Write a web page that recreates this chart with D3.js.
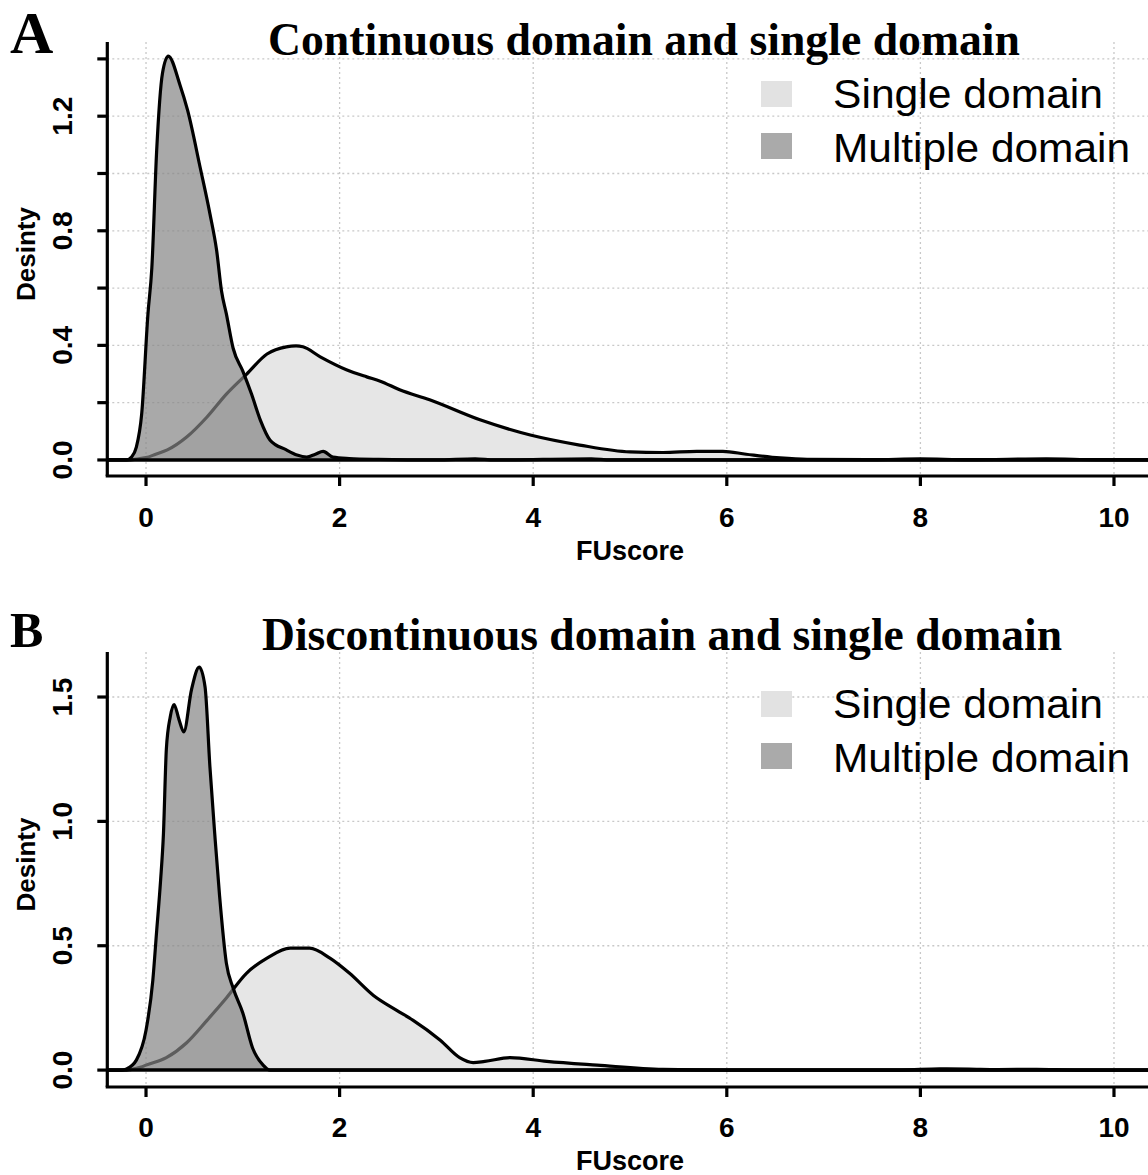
<!DOCTYPE html>
<html><head><meta charset="utf-8">
<script src="https://cdn.jsdelivr.net/npm/d3@7"></script>
<style>body{margin:0;background:#fff}</style></head>
<body>
<svg id="c" width="1148" height="1175"></svg>
<script>
// ---------- data ----------
const xTicks = [0, 2, 4, 6, 8, 10];
const xTickLabels = ["0", "2", "4", "6", "8", "10"];
const yTicksA = [0, 0.2, 0.4, 0.6, 0.8, 1.0, 1.2, 1.4];
const yTickLabelsA = ["0.0", "", "0.4", "", "0.8", "", "1.2", ""];
const yTicksB = [0, 0.5, 1.0, 1.5];
const yTickLabelsB = ["0.0", "0.5", "1.0", "1.5"];
const seriesNames = ["Single domain", "Multiple domain"];
const titles = ["Continuous domain and single domain", "Discontinuous domain and single domain"];
const panelLetters = ["A", "B"];

// Panel A: Single domain density [FUscore, density]
const singleA = [[-0.4,0],[-0.2,0],[-0.1,0.003],[0.0,0.008],[0.1,0.02],[0.22,0.035],[0.42,0.08],[0.63,0.15],
  [0.83,0.23],[1.04,0.30],[1.25,0.37],[1.45,0.395],[1.55,0.398],[1.62,0.395],[1.80,0.36],[2.07,0.315],
  [2.28,0.29],[2.42,0.275],[2.62,0.245],[2.93,0.21],[3.45,0.14],[3.97,0.087],[4.48,0.052],[5.0,0.028],
  [5.34,0.026],[5.69,0.03],[5.96,0.03],[6.2,0.02],[6.55,0.007],[6.83,0.002],[7.5,0.001],[8.0,0.004],
  [8.5,0.001],[9.3,0.004],[9.8,0.001],[10.4,0]];
// Panel A: Multiple domain density
const multipleA = [[-0.4,0],[-0.2,0],[-0.15,0.01],[-0.1,0.045],[-0.045,0.16],[0.02,0.51],[0.06,0.67],
  [0.11,1.08],[0.17,1.35],[0.23,1.41],[0.35,1.31],[0.43,1.22],[0.56,1.02],[0.66,0.86],[0.73,0.73],
  [0.78,0.59],[0.83,0.51],[0.90,0.39],[1.0,0.31],[1.09,0.23],[1.18,0.14],[1.28,0.07],[1.45,0.035],
  [1.56,0.017],[1.66,0.01],[1.75,0.02],[1.83,0.03],[1.93,0.01],[2.1,0.005],[2.4,0.002],[3.0,0],
  [3.4,0.004],[3.6,0],[4.6,0.004],[4.8,0],[10.4,0]];
// Panel B: Single domain density
const singleB = [[-0.4,0],[-0.2,0],[-0.16,0.002],[-0.05,0.012],[0.0,0.02],[0.21,0.05],[0.42,0.11],
  [0.63,0.2],[0.83,0.29],[1.04,0.39],[1.25,0.45],[1.49,0.49],[1.69,0.49],[1.9,0.45],[2.1,0.39],
  [2.35,0.30],[2.59,0.24],[2.76,0.2],[3.04,0.12],[3.24,0.05],[3.38,0.03],[3.5,0.035],[3.76,0.05],
  [4.14,0.035],[4.66,0.02],[5.34,0.003],[6.0,0],[7.8,0],[8.2,0.005],[8.5,0.004],[8.8,0.002],
  [9.2,0.003],[9.6,0],[10.4,0]];
// Panel B: Multiple domain density
const multipleB = [[-0.4,0],[-0.25,0],[-0.2,0.005],[-0.1,0.04],[0.0,0.16],[0.07,0.36],[0.11,0.56],
  [0.15,0.76],[0.18,0.95],[0.21,1.29],[0.25,1.42],[0.29,1.47],[0.34,1.41],[0.39,1.36],[0.47,1.53],
  [0.55,1.62],[0.61,1.54],[0.66,1.22],[0.71,0.95],[0.76,0.70],[0.83,0.43],[0.90,0.33],[1.0,0.23],
  [1.1,0.09],[1.21,0.02],[1.28,0],[10.4,0]];

// ---------- drawing ----------
const svg = d3.select("#c");
const colSingle = "#e6e6e6", colMultiple = "rgba(132,132,132,0.7)";
const legSingle = "#e2e2e2", legMultiple = "#aaaaaa";
const sans = "'Liberation Sans', Arial, sans-serif";
const serif = "'Liberation Serif', 'Times New Roman', serif";

const x = d3.scaleLinear().domain([-0.4, 10.4]).range([107.3, 1152.7]);

const panels = [
  {single: singleA, multiple: multipleA, yTicks: yTicksA, yLabels: yTickLabelsA,
   ydom: [-0.056, 1.459], yrange: [476, 42], title: titles[0], letter: panelLetters[0],
   titleX: 268, titleW: 752, titleY: 55, letterY: 53, letterSize: 60, legY: 81, tickLabY: 527, xLabY: 560},
  {single: singleB, multiple: multipleB, yTicks: yTicksB, yLabels: yTickLabelsB,
   ydom: [-0.068, 1.681], yrange: [1087, 652], title: titles[1], letter: panelLetters[1],
   titleX: 262, titleW: 800, titleY: 650, letterY: 647, letterSize: 50, legY: 691, tickLabY: 1137, xLabY: 1170}
];
const legendWidths = [270, 297];

panels.forEach(p => {
  const y = d3.scaleLinear().domain(p.ydom).range(p.yrange);
  const g = svg.append("g");
  const top = p.yrange[1], bot = p.yrange[0];
  const left = x.range()[0];

  // grid
  g.selectAll(".vg").data(xTicks).join("line")
    .attr("x1", d => x(d)).attr("x2", d => x(d)).attr("y1", top).attr("y2", bot)
    .attr("stroke", "#c8c8c8").attr("stroke-width", 1.3).attr("stroke-dasharray", "2,3");
  g.selectAll(".hg").data(p.yTicks).join("line")
    .attr("x1", left).attr("x2", 1148).attr("y1", d => y(d)).attr("y2", d => y(d))
    .attr("stroke", "#c8c8c8").attr("stroke-width", 1.3).attr("stroke-dasharray", "2,3");

  const area = d3.area().x(d => x(d[0])).y0(y(0)).y1(d => y(d[1])).curve(d3.curveMonotoneX);
  const line = d3.line().x(d => x(d[0])).y(d => y(d[1])).curve(d3.curveMonotoneX);

  g.append("path").datum(p.single).attr("d", area).attr("fill", colSingle);
  g.append("path").datum(p.single).attr("d", line).attr("fill", "none")
    .attr("stroke", "#000").attr("stroke-width", 3.2).attr("stroke-linejoin", "round");
  g.append("path").datum(p.multiple).attr("d", area).attr("fill", colMultiple);
  g.append("path").datum(p.multiple).attr("d", line).attr("fill", "none")
    .attr("stroke", "#000").attr("stroke-width", 3.2).attr("stroke-linejoin", "round");

  // baseline
  g.append("line").attr("x1", left).attr("x2", 1148).attr("y1", y(0)).attr("y2", y(0))
    .attr("stroke", "#000").attr("stroke-width", 3.5);

  // axes
  g.append("line").attr("x1", left).attr("x2", left).attr("y1", top).attr("y2", bot)
    .attr("stroke", "#000").attr("stroke-width", 3.2);
  g.append("line").attr("x1", left - 1.6).attr("x2", 1148).attr("y1", bot).attr("y2", bot)
    .attr("stroke", "#000").attr("stroke-width", 3.2);
  g.selectAll(".yt").data(p.yTicks).join("line")
    .attr("x1", left - 10).attr("x2", left).attr("y1", d => y(d)).attr("y2", d => y(d))
    .attr("stroke", "#000").attr("stroke-width", 3.2);
  g.selectAll(".xt").data(xTicks).join("line")
    .attr("x1", d => x(d)).attr("x2", d => x(d)).attr("y1", bot).attr("y2", bot + 10)
    .attr("stroke", "#000").attr("stroke-width", 3.2);

  // tick labels
  g.selectAll(".xl").data(xTicks).join("text")
    .attr("x", d => x(d)).attr("y", p.tickLabY).attr("text-anchor", "middle")
    .attr("font-family", sans).attr("font-weight", "bold").attr("font-size", 28)
    .text((d, i) => xTickLabels[i]);
  g.selectAll(".yl").data(p.yTicks).join("text")
    .attr("transform", d => `translate(72,${y(d)}) rotate(-90)`).attr("text-anchor", "middle")
    .attr("font-family", sans).attr("font-weight", "bold").attr("font-size", 28)
    .text((d, i) => p.yLabels[i]);

  // axis titles
  g.append("text").attr("transform", `translate(35,${(top + bot) / 2 - 5}) rotate(-90)`)
    .attr("text-anchor", "middle").attr("font-family", sans).attr("font-weight", "bold")
    .attr("font-size", 26).text("Desinty");
  g.append("text").attr("x", 630).attr("y", p.xLabY).attr("text-anchor", "middle")
    .attr("font-family", sans).attr("font-weight", "bold").attr("font-size", 27).text("FUscore");

  // title and letter
  g.append("text").attr("x", p.titleX).attr("y", p.titleY).attr("font-family", serif)
    .attr("font-weight", "bold").attr("font-size", 47)
    .attr("textLength", p.titleW).attr("lengthAdjust", "spacingAndGlyphs").text(p.title);
  g.append("text").attr("x", 10).attr("y", p.letterY).attr("font-family", serif)
    .attr("font-weight", "bold").attr("font-size", p.letterSize).text(p.letter);

  // legend
  const legCols = [legSingle, legMultiple];
  seriesNames.forEach((name, i) => {
    g.append("rect").attr("x", 761).attr("y", p.legY + i * 52).attr("width", 31).attr("height", 26)
      .attr("fill", legCols[i]);
    g.append("text").attr("x", 833).attr("y", p.legY + 27 + i * 54)
      .attr("font-family", sans).attr("font-size", 41)
      .attr("textLength", legendWidths[i]).attr("lengthAdjust", "spacingAndGlyphs").text(name);
  });
});
</script>
</body></html>
